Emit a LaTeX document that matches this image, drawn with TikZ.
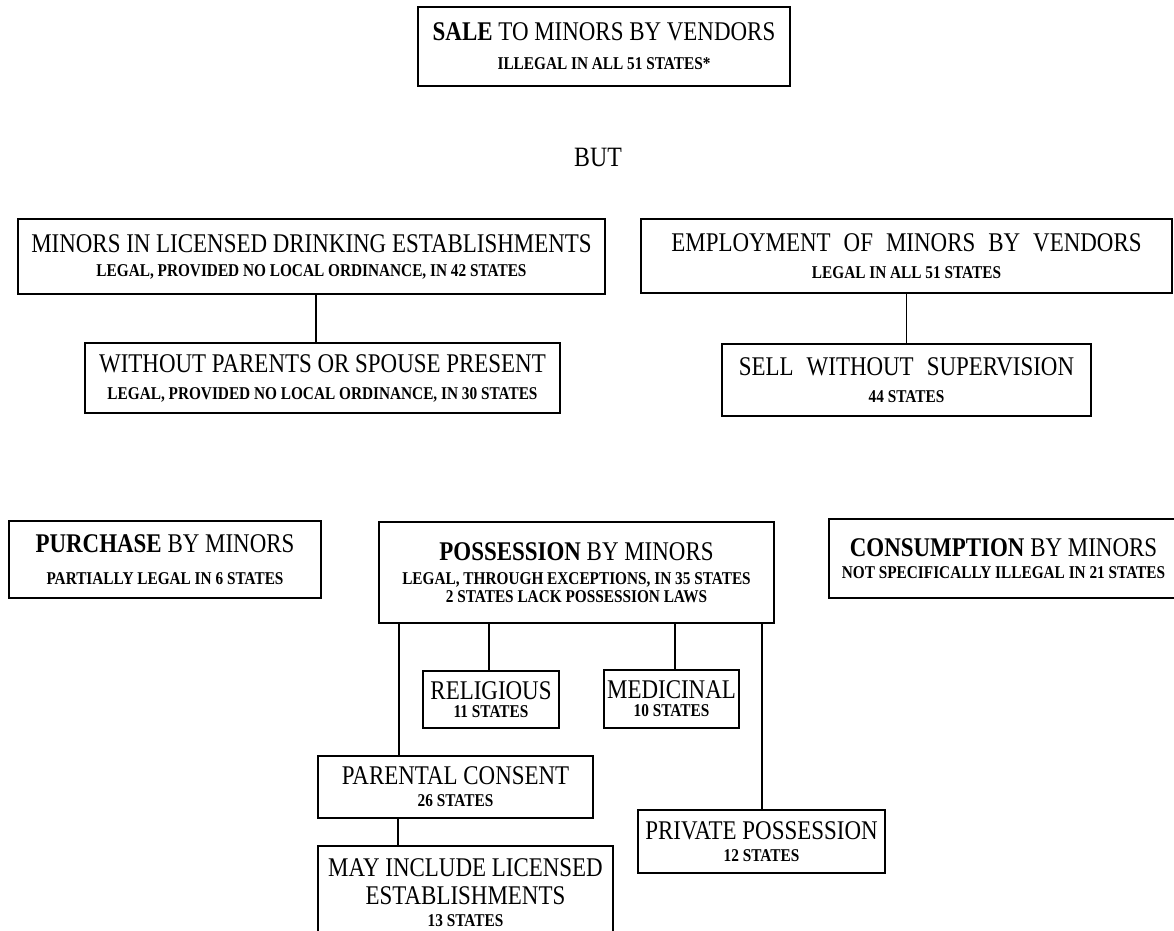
\documentclass[tikz,border=0pt]{standalone}
\usepackage{fontspec}
\setmainfont{Liberation Serif}[FakeStretch=0.85]
\newcommand\TitleFont{\fontsize{27}{27}\selectfont}
\newcommand\SubFont{\fontsize{18}{27}\bfseries\selectfont}
\newcommand\WideSpace{\spaceskip=13pt plus 2pt\relax}
\begin{document}
\begin{tikzpicture}[x=1pt,y=-1pt,
  box/.style={draw, line width=1.4pt, inner sep=0pt, align=center, font=\TitleFont},
  conn/.style={line width=1.1pt}]
\useasboundingbox (0,0) rectangle (1174,930);
\clip (0,0) rectangle (1174,930);
% top
\node[box, minimum width=372pt, minimum height=79pt] (sale) at (604,46.5)
  {\textbf{SALE} TO MINORS BY VENDORS\\[2pt]{\SubFont ILLEGAL IN ALL 51 STATES*}};
\node[font=\fontsize{28}{28}\selectfont, inner sep=0pt] (but) at (598,157) {BUT};
% second row
\node[box, minimum width=587pt, minimum height=75pt] (minors) at (311.5,256.5)
  {MINORS IN LICENSED DRINKING ESTABLISHMENTS\\[-3pt]{\SubFont LEGAL, PROVIDED NO LOCAL ORDINANCE, IN 42 STATES}};
\node[box, minimum width=531pt, minimum height=74pt] (employ) at (906.5,256)
  {{\WideSpace EMPLOYMENT OF MINORS BY VENDORS}\\{\SubFont LEGAL IN ALL 51 STATES}};
\node[box, minimum width=475pt, minimum height=70pt] (without) at (322.5,378)
  {WITHOUT PARENTS OR SPOUSE PRESENT\\{\SubFont LEGAL, PROVIDED NO LOCAL ORDINANCE, IN 30 STATES}};
\node[box, minimum width=369pt, minimum height=72pt] (sell) at (906.5,380)
  {{\WideSpace SELL WITHOUT SUPERVISION}\\{\SubFont 44 STATES}};
% third row
\node[box, minimum width=312pt, minimum height=77pt] (purchase) at (165,559.5)
  {\textbf{PURCHASE} BY MINORS\\[5pt]{\SubFont PARTIALLY LEGAL IN 6 STATES}};
\node[box, minimum width=395pt, minimum height=101pt] (poss) at (576.5,572.5)
  {\textbf{POSSESSION} BY MINORS\\[-3pt]{\SubFont LEGAL, THROUGH EXCEPTIONS, IN 35 STATES}\\[-9pt]{\SubFont 2 STATES LACK POSSESSION LAWS}};
\node[box, minimum width=349pt, minimum height=79pt] (consump) at (1003.5,558.5)
  {\textbf{CONSUMPTION} BY MINORS\\[-5pt]{\SubFont NOT SPECIFICALLY ILLEGAL IN 21 STATES}};
% possession children
\node[box, minimum width=136pt, minimum height=57pt] (rel) at (491,699.5)
  {RELIGIOUS\\[-9pt]{\SubFont 11 STATES}};
\node[box, minimum width=135pt, minimum height=58pt] (med) at (671.5,699)
  {MEDICINAL\\[-9pt]{\SubFont 10 STATES}};
\node[box, minimum width=275pt, minimum height=62pt] (parent) at (455.5,787)
  {PARENTAL CONSENT\\[-5pt]{\SubFont 26 STATES}};
\node[box, minimum width=295pt, minimum height=94pt] (may) at (465.5,893)
  {MAY INCLUDE LICENSED\\[1pt]ESTABLISHMENTS\\[-5pt]{\SubFont 13 STATES}};
\node[box, minimum width=247pt, minimum height=63pt] (private) at (761.5,841.5)
  {PRIVATE POSSESSION\\[-5pt]{\SubFont 12 STATES}};
% connectors
\coordinate (xa) at (316,0);
\coordinate (xr) at (489,0);
\coordinate (xm) at (675,0);
\coordinate (xl) at (399,0);
\coordinate (xp) at (762,0);
\coordinate (xq) at (398,0);
\draw[conn] (minors.south -| xa) -- (without.north -| xa);
\draw[conn] (employ.south) -- (sell.north);
\draw[conn] (poss.south -| xr) -- (rel.north -| xr);
\draw[conn] (poss.south -| xm) -- (med.north -| xm);
\draw[conn] (poss.south -| xl) -- (parent.north -| xl);
\draw[conn] (poss.south -| xp) -- (private.north -| xp);
\draw[conn] (parent.south -| xq) -- (may.north -| xq);
\end{tikzpicture}
\end{document}
